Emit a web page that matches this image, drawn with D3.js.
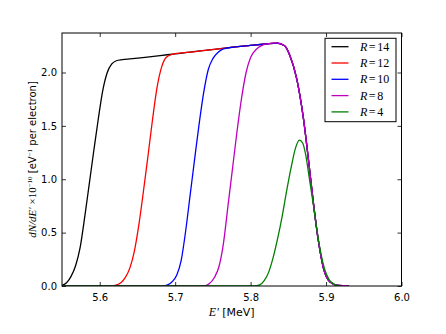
<!DOCTYPE html>
<html>
<head>
<meta charset="utf-8">
<script src="https://cdn.jsdelivr.net/npm/d3@7"></script>
<style>
  body { margin: 0; background: #fff; }
  svg { display: block; }
</style>
</head>
<body>
<div id="chart"></div>
<script>
// series: [energy MeV, dN/dE x1e-10]
const r14 = [[5.55,0.005],[5.556,0.03],[5.562,0.09],[5.568,0.19],[5.574,0.36],[5.580,0.64],[5.586,0.95],
  [5.592,1.26],[5.598,1.56],[5.604,1.83],[5.610,2.0],[5.616,2.08],[5.622,2.11],[5.630,2.12],[5.64,2.128],
  [5.66,2.142],[5.68,2.158],[5.70,2.175],[5.72,2.19],[5.74,2.208],[5.76,2.224],[5.78,2.24],[5.80,2.254],
  [5.82,2.267],[5.835,2.276],[5.845,2.25],[5.852,2.16],[5.861,1.945],[5.870,1.57],[5.877,1.164],[5.883,0.79],
  [5.890,0.415],[5.8966,0.166],[5.905,0.04],[5.916,0.005],[5.93,0]];
const r12 = [[5.55,0],[5.614,0],[5.620,0.005],[5.628,0.03],[5.634,0.08],[5.640,0.17],[5.646,0.33],[5.652,0.58],
  [5.658,0.89],[5.664,1.22],[5.670,1.56],[5.676,1.86],[5.682,2.05],[5.688,2.14],[5.695,2.168],[5.70,2.176],
  [5.72,2.19],[5.74,2.208],[5.76,2.224],[5.78,2.24],[5.80,2.254],[5.82,2.267],[5.835,2.276],[5.845,2.25],
  [5.852,2.16],[5.861,1.945],[5.870,1.57],[5.877,1.164],[5.883,0.79],[5.890,0.415],[5.8966,0.166],[5.905,0.04],
  [5.916,0.005],[5.93,0]];
const r10 = [[5.55,0],[5.684,0],[5.690,0.01],[5.696,0.04],[5.702,0.10],[5.708,0.24],[5.714,0.52],[5.720,0.86],
  [5.726,1.20],[5.732,1.53],[5.738,1.82],[5.744,2.03],[5.750,2.13],[5.757,2.19],[5.764,2.222],[5.78,2.24],
  [5.80,2.254],[5.82,2.267],[5.835,2.276],[5.845,2.25],[5.852,2.16],[5.861,1.945],[5.870,1.57],[5.877,1.164],
  [5.883,0.79],[5.890,0.415],[5.8966,0.166],[5.905,0.04],[5.916,0.005],[5.93,0]];
const r8 = [[5.55,0],[5.738,0],[5.745,0.02],[5.752,0.08],[5.758,0.18],[5.764,0.40],[5.770,0.75],[5.776,1.10],
  [5.782,1.45],[5.788,1.76],[5.794,2.00],[5.800,2.14],[5.808,2.22],[5.8215,2.268],[5.835,2.278],[5.845,2.25],
  [5.852,2.16],[5.861,1.945],[5.870,1.57],[5.877,1.164],[5.883,0.79],[5.890,0.415],[5.8966,0.166],[5.905,0.04],
  [5.916,0.005],[5.93,0]];
const r4 = [[5.55,0],[5.805,0],[5.812,0.01],[5.818,0.05],[5.824,0.13],[5.830,0.27],[5.836,0.45],[5.842,0.66],
  [5.848,0.90],[5.854,1.12],[5.859,1.28],[5.8647,1.367],[5.869,1.34],[5.873,1.23],[5.878,1.00],[5.883,0.77],
  [5.888,0.52],[5.893,0.31],[5.898,0.16],[5.904,0.06],[5.910,0.02],[5.918,0]];

const labels = ['14', '12', '10', '8', '4'];
const colors = ['#000000', '#ff0000', '#0000ff', '#bf00bf', '#008000'];
const series = [r14, r12, r10, r8, r4];
const xTicks = [5.6, 5.7, 5.8, 5.9, 6.0];
const yTicks = [0.0, 0.5, 1.0, 1.5, 2.0];

const width = 446, height = 334;
const mLeft = 62, mRight = 401.5, mTop = 33, mBottom = 286;

const x = d3.scaleLinear().domain([5.55, 6.0]).range([mLeft, mRight]);
const y = d3.scaleLinear().domain([0, 2.37]).range([mBottom, mTop]);

const svg = d3.select('#chart').append('svg')
  .attr('width', width).attr('height', height)
  .style('font-family', 'DejaVu Sans');

svg.append('clipPath').attr('id', 'clip')
  .append('rect').attr('x', mLeft).attr('y', mTop).attr('width', mRight - mLeft).attr('height', mBottom - mTop);

// lines
const line = d3.line().x(d => x(d[0])).y(d => y(d[1])).curve(d3.curveMonotoneX);
svg.append('g').attr('clip-path', 'url(#clip)')
  .selectAll('path').data(series).enter().append('path')
  .attr('d', line)
  .attr('fill', 'none')
  .attr('stroke', (d, i) => colors[i])
  .attr('stroke-width', 1.3);

// axes, ticks pointing inward
const f1 = d3.format('.1f');
function styleAxis(g) {
  g.select('.domain').remove();
  g.selectAll('line').attr('stroke', '#000').attr('stroke-width', 0.8);
  g.selectAll('text').attr('font-size', 10).attr('fill', '#000').attr('font-family', 'DejaVu Sans');
}
svg.append('g').attr('transform', `translate(0,${mBottom})`)
  .call(d3.axisBottom(x).tickValues(xTicks).tickFormat(f1).tickSize(-4).tickPadding(7.5))
  .call(styleAxis);
svg.append('g').attr('transform', `translate(0,${mTop})`)
  .call(d3.axisTop(x).tickValues(xTicks).tickFormat('').tickSize(-4))
  .call(styleAxis);
svg.append('g').attr('transform', `translate(${mLeft},0)`)
  .call(d3.axisLeft(y).tickValues(yTicks).tickFormat(f1).tickSize(-4).tickPadding(5))
  .call(styleAxis);
svg.append('g').attr('transform', `translate(${mRight},0)`)
  .call(d3.axisRight(y).tickValues(yTicks).tickFormat('').tickSize(-4))
  .call(styleAxis);

svg.append('rect')
  .attr('x', mLeft).attr('y', mTop).attr('width', mRight - mLeft).attr('height', mBottom - mTop)
  .attr('fill', 'none').attr('stroke', '#000').attr('stroke-width', 1);

// x label
const xl = svg.append('text')
  .attr('x', (mLeft + mRight) / 2).attr('y', 316)
  .attr('text-anchor', 'middle').attr('font-size', 11);
xl.append('tspan').attr('font-family', 'Liberation Serif').attr('font-style', 'italic').attr('font-size', 12).text('E′');
xl.append('tspan').text(' [MeV]');

// y label
const yl = svg.append('text')
  .attr('transform', `translate(36,${(mTop + mBottom) / 2}) rotate(-90)`)
  .attr('text-anchor', 'middle').attr('font-size', 10);
yl.append('tspan').attr('font-family', 'Liberation Serif').attr('font-style', 'italic').attr('font-size', 11).text('dN/dE′');
yl.append('tspan').attr('font-family', 'Liberation Serif').attr('font-size', 11).text(' ×10');
yl.append('tspan').attr('font-family', 'Liberation Serif').attr('font-size', 7).attr('dy', -4).text('−10');
yl.append('tspan').attr('dy', 4).text('  [eV');
yl.append('tspan').attr('font-family', 'Liberation Serif').attr('font-size', 7).attr('dy', -4).text('−1');
yl.append('tspan').attr('dy', 4).text(' per electron]');

// legend
const lg = svg.append('g');
lg.append('rect')
  .attr('x', 325).attr('y', 38.3).attr('width', 71).attr('height', 83.4)
  .attr('fill', '#fff').attr('stroke', '#000').attr('stroke-width', 1);
const items = lg.selectAll('g.item').data(labels).enter().append('g')
  .attr('transform', (d, i) => `translate(0,${46.7 + i * 16.3})`);
items.append('line')
  .attr('x1', 331.5).attr('x2', 348.5)
  .attr('stroke', (d, i) => colors[i]).attr('stroke-width', 1.3);
const lt = items.append('text')
  .attr('x', 360).attr('y', 4)
  .attr('font-family', 'Liberation Serif').attr('font-size', 12);
lt.append('tspan').attr('font-style', 'italic').text('R');
lt.append('tspan').attr('dx', 1.5).text('=');
lt.append('tspan').attr('dx', 1.5).text(d => d);
</script>
</body>
</html>
